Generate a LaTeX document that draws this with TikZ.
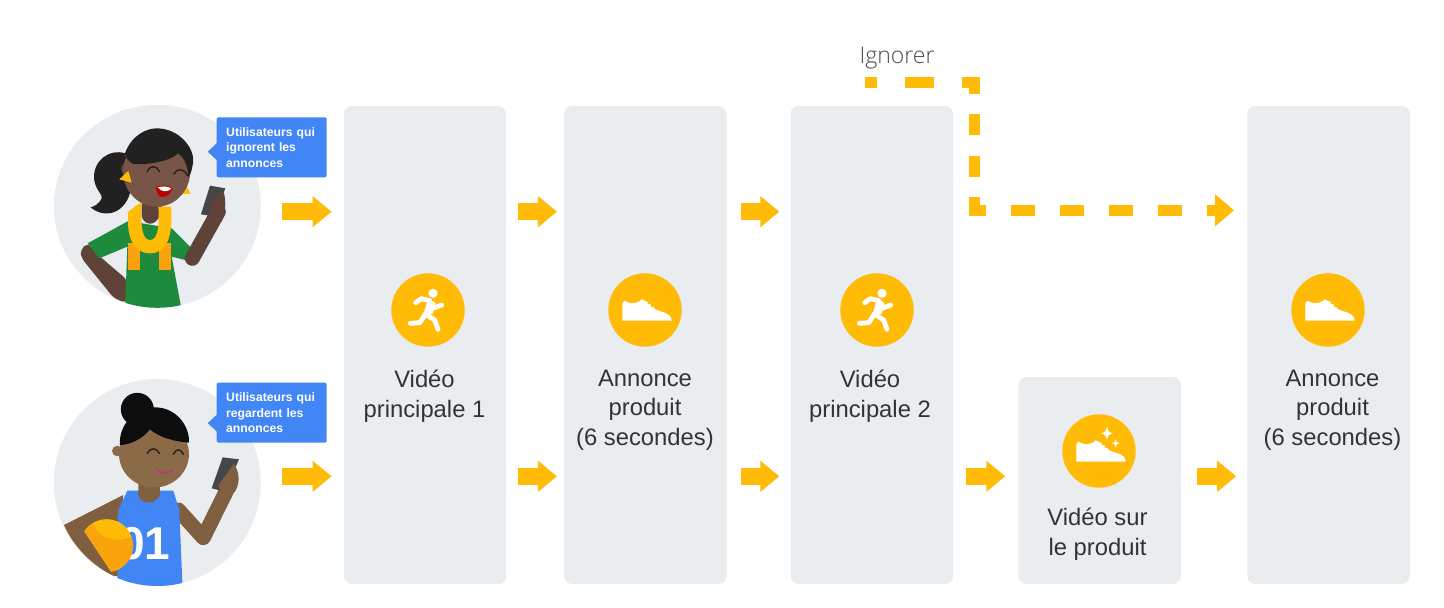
\documentclass[tikz,border=0pt]{standalone}
\usepackage{fontspec}
\setmainfont{Liberation Sans}
\newfontfamily\lightfont{Open Sans Light}
\usetikzlibrary{arrows.meta,positioning,calc,shapes.geometric}

\definecolor{panel}{HTML}{EAEDF0}
\definecolor{amber}{HTML}{FFBB05}
\definecolor{deepamber}{HTML}{F9A30E}
\definecolor{tipblue}{HTML}{4285F4}
\definecolor{leaf}{HTML}{1E8A3E}
\definecolor{skina}{HTML}{795548}
\definecolor{skinb}{HTML}{5F4339}
\definecolor{skinc}{HTML}{8B6A47}
\definecolor{skind}{HTML}{7F5F3F}
\definecolor{ink}{HTML}{212121}
\definecolor{slate}{HTML}{444648}

\tikzset{
  runner/.pic={
    \begin{scope}[x=.3333pt,y=-.3333pt,white,line cap=round,line join=round]
      \fill (15,-50) circle (4.6pt);
      \fill (-2,-28) -- (22,-22) -- (14,12) -- (-14,16) -- cycle;
      \draw[line width=4.8pt] (-37,-22) -- (-20,-34) -- (5,-28);
      \draw[line width=4.8pt] (12,-20) -- (15,-5) -- (41,-15);
      \draw[line width=4.8pt] (-8,12) -- (20,30) -- (30,58);
      \draw[line width=4.8pt] (-8,12) -- (-24,38) -- (-53,40);
    \end{scope}
  },
  shoe/.pic={
    \begin{scope}[x=.3333pt,y=-.3333pt]
      \fill[white] (-68,32) -- (-68,-20) -- (-62,-28)
        .. controls (-50,-20) and (-28,-14) .. (-10,-32)
        -- (5,-25) -- (35,0) .. controls (55,8) and (78,8) .. (80,32) -- cycle;
      \draw[amber,line width=.8pt] (8,-18) -- (18,-22) (18,-10) -- (28,-14) (28,-4) -- (38,-8);
    \end{scope}
  },
  sparkle/.pic={
    \begin{scope}[x=.3333pt,y=-.3333pt]
      \fill[white] (24,-75) .. controls (26,-60) and (30,-55) .. (42,-53)
        .. controls (30,-51) and (26,-46) .. (24,-31)
        .. controls (22,-46) and (18,-51) .. (6,-53)
        .. controls (18,-55) and (22,-60) .. cycle;
      \fill[white] (50,-35) .. controls (51,-27) and (53,-25) .. (61,-23)
        .. controls (53,-21) and (51,-19) .. (50,-11)
        .. controls (49,-19) and (47,-21) .. (39,-23)
        .. controls (47,-25) and (49,-27) .. cycle;
    \end{scope}
  }
}

\begin{document}
\begin{tikzpicture}[x=1pt,y=-1pt]
\tikzstyle{tallbox}=[fill=panel,rounded corners=8pt,minimum width=162.5pt,minimum height=478pt,inner sep=0pt]
\tikzstyle{shortbox}=[tallbox,minimum height=207pt]
\tikzstyle{icon}=[circle,fill=amber,minimum size=73.4pt,inner sep=0pt]
\tikzstyle{caption}=[align=center,font=\fontsize{23.8}{29.5}\selectfont,text=black!80,inner sep=0pt]
\tikzstyle{avatar}=[ellipse,fill=panel,minimum width=207pt,minimum height=207pt,inner sep=0pt]
\tikzstyle{bubble}=[fill=tipblue,rounded corners=2pt,minimum width=110pt,minimum height=60pt,inner sep=0pt,
  text width=91pt,align=left,text=white,font=\fontsize{12.2}{15.6}\selectfont\bfseries]
\tikzstyle{flow}=[amber,line width=17pt,-{Triangle[length=19pt,width=30pt]}]
\tikzstyle{skip}=[amber,line width=10.6pt]

\useasboundingbox (0,0) rectangle (1444,608);

\node[tallbox]  (vid1) at (425,345) {};
\node[tallbox]  (ad1)  [right=57.5pt of vid1] {};
\node[tallbox]  (vid2) [right=63.5pt of ad1] {};
\node[shortbox] (demo) [right=65pt of vid2,yshift=-135.5pt] {};
\node[tallbox]  (ad2)  [right=66pt of demo,yshift=135.5pt] {};

\node[icon] (runa)  at (428,310) {};
\node[icon] (shoea) at (645,310) {};
\node[icon] (runb)  at (877,310) {};
\node[icon] (shoeb) at (1099,451) {};
\node[icon] (shoec) at (1328,310) {};
\pic at (runa) {runner};
\pic at (shoea) {shoe};
\pic at (runb) {runner};
\pic at (shoeb) {shoe};
\pic at (shoeb) {sparkle};
\pic at (shoec) {shoe};

\node[caption] (capa) [below=23pt of runa,xshift=-3.5pt] {Vidéo\\principale 1};
\node[caption] (capb) [below=23pt of shoea] {Annonce\\produit\\(6 secondes)};
\node[caption] (capc) [below=23pt of runb,xshift=-7pt] {Vidéo\\principale 2};
\node[caption] (capd) [below=20pt of shoeb,xshift=-1.5pt] {Vidéo sur\\le produit};
\node[caption] (cape) [below=23pt of shoec,xshift=4.5pt] {Annonce\\produit\\(6 secondes)};
\node[font=\lightfont\fontsize{23}{28}\selectfont,text=black!70,inner sep=0pt,anchor=base] (skiptext) at (897,63) {Ignorer};

\node[avatar,minimum height=203pt] (usera) at (157.3,206.3) {};
\node[avatar] (userb) at (157.3,482.5) {};

\begin{scope}
\clip (usera.center) ellipse (103.5pt and 101.5pt);
\begin{scope}[shift={(40,90)},x=.3333pt,y=-.3333pt]
  \fill[ink] (255,190) .. controls (210,175) and (160,210) .. (162,265)
    .. controls (165,300) and (190,315) .. (185,325) .. controls (175,345) and (160,350) .. (152,352)
    .. controls (190,385) and (250,375) .. (270,310) -- (270,250) -- cycle;
  \fill[skinb,rounded corners=5pt] (145,458) -- (120,480) -- (125,505) -- (222,625) -- (262,640) -- (262,570) -- (180,500) -- cycle;
  \fill[leaf] (143,460) -- (265,393) -- (395,415) -- (455,475) -- (435,510) -- (395,500) -- (425,660) -- (255,660) -- (262,470) -- (178,505) -- cycle;
  \draw[skinb,line width=15pt,line cap=round,line join=round] (457,505) -- (535,365);
  \fill[deepamber] (263,460) rectangle (300,540);
  \fill[deepamber] (357,460) rectangle (393,540);
  \fill[skinb] (305,340) -- (305,380) .. controls (315,408) and (345,408) .. (358,380) -- (368,340) -- cycle;
  \fill[amber] (265,365) .. controls (258,440) and (280,490) .. (330,490)
    .. controls (380,490) and (400,440) .. (393,350)
    -- (355,350) .. controls (360,420) and (350,450) .. (330,450)
    .. controls (310,450) and (300,420) .. (305,335) -- cycle;
  \fill[amber] (435,280) -- (452,312) -- (425,312) -- cycle;
  \fill[skinb] (258,235) circle (5pt);
  \fill[skina] (350,245) ellipse (33.5pt and 35pt);
  \fill[amber] (238,268) -- (265,243) -- (275,278) -- cycle;
  \fill[ink] (255,190) .. controls (275,135) and (320,115) .. (350,115)
    .. controls (420,115) and (470,180) .. (458,225) .. controls (455,245) and (450,255) .. (445,262)
    .. controls (445,235) and (435,205) .. (415,190) .. controls (390,215) and (320,225) .. (280,222)
    .. controls (265,215) and (255,200) .. cycle;
  \fill[slate] (510,287) -- (556,295) -- (525,380) -- (483,373) -- cycle;
  \fill[skinb] (510,345) .. controls (525,320) and (540,300) .. (552,310) .. controls (560,340) and (555,370) .. (545,395) -- (510,385) -- cycle;
  \draw[ink,line width=1.4pt,line cap=round] (322,245) .. controls (330,225) and (350,225) .. (358,245);
  \draw[ink,line width=1.4pt,line cap=round] (402,252) .. controls (410,234) and (432,234) .. (443,257);
  \fill[red!75!black] (348,290) .. controls (365,285) and (385,285) .. (398,295) .. controls (392,315) and (375,325) .. (360,320) .. controls (352,312) and (348,300) .. cycle;
  \fill[white] (353,292) .. controls (365,288) and (385,288) .. (394,296) .. controls (385,306) and (365,308) .. cycle;
\end{scope}
\end{scope}

\begin{scope}
\clip (userb.center) circle (103.5pt);
\begin{scope}[shift={(40,370)},x=.3333pt,y=-.3333pt]
  \fill[black!95] (292,118) circle (16.5pt);
  \fill[skind] (250,375) -- (72,465) .. controls (100,530) and (160,590) .. (222,618) -- (245,618) -- (245,420) -- cycle;
  \draw[skind,line width=15pt,line cap=round,line join=round] (415,420) -- (490,503) -- (568,345);
  \fill[tipblue] (232,660) -- (235,420) -- (262,362) -- (400,362) -- (418,420) -- (428,660) -- cycle;
  \fill[skind] (295,330) -- (295,375) .. controls (305,405) and (345,405) .. (360,375) -- (360,330) -- cycle;
  \node[text=white,font=\fontsize{46}{46}\selectfont\bfseries,inner sep=0pt,anchor=base] (jersey) at (315,570) {01};
  \begin{scope}
    \clip (130,480) -- (222,618) -- (300,618) -- (300,430) -- (130,430) -- cycle;
    \clip (200,527) circle (26.5pt);
    \fill[amber] (200,527) circle (26.5pt);
    \fill[deepamber] (120,470) -- (160,462) .. controls (172,505) and (235,525) .. (285,495)
      -- (290,570) .. controls (270,595) and (250,605) .. (232,598) -- (222,620) -- cycle;
  \end{scope}
  \fill[skinc] (232,243) circle (5.3pt);
  \fill[skinc] (342,252) ellipse (35pt and 33.5pt);
  \fill[black!95] (240,225) .. controls (235,170) and (280,112) .. (345,112)
    .. controls (410,112) and (450,170) .. (447,218)
    .. controls (410,215) and (360,205) .. (330,178)
    .. controls (310,205) and (270,225) .. cycle;
  \fill[slate] (548,262) -- (597,268) -- (555,365) -- (515,355) -- cycle;
  \fill[skind] (535,345) .. controls (550,325) and (570,300) .. (582,280) .. controls (600,310) and (600,340) .. (585,365) -- (552,385) -- cycle;
  \draw[ink,line width=1.4pt,line cap=round] (322,250) .. controls (330,232) and (350,232) .. (358,250);
  \draw[ink,line width=1.4pt,line cap=round] (400,253) .. controls (408,235) and (422,235) .. (430,253);
  \draw[magenta!70!black,line width=1.8pt,line cap=round] (348,297) .. controls (360,312) and (385,312) .. (397,300);
\end{scope}
\end{scope}

\node[bubble] (tipa) at (271.7,147.3) {Utilisateurs qui\\ignorent les\\annonces};
\node[bubble] (tipb) at (271.7,412.7) {Utilisateurs qui\\regardent les\\annonces};
\fill[tipblue] ($(tipa.west)+(.5,-4.3)$) -- ($(tipa.west)+(-8.7,4.4)$) -- ($(tipa.west)+(.5,13)$) -- cycle;
\fill[tipblue] ($(tipb.west)+(.5,1.7)$) -- ($(tipb.west)+(-8.7,10.4)$) -- ($(tipb.west)+(.5,19)$) -- cycle;

\coordinate (rowa) at (0,211.7);
\coordinate (rowb) at (0,476.3);
\path[flow]
(usera.east |- rowa) edge[shorten <=21pt,shorten >=12pt] (vid1.west |- rowa)
(userb.east |- rowb) edge[shorten <=21pt,shorten >=12pt] (vid1.west |- rowb)
(vid1.east |- rowa) edge[shorten <=12pt,shorten >=7pt] (ad1.west |- rowa)
(vid1.east |- rowb) edge[shorten <=12pt,shorten >=7pt] (ad1.west |- rowb)
(ad1.east |- rowa) edge[shorten <=14pt,shorten >=11pt] (vid2.west |- rowa)
(ad1.east |- rowb) edge[shorten <=14pt,shorten >=11pt] (vid2.west |- rowb)
(vid2.east |- rowb) edge[shorten <=13pt,shorten >=13pt] (demo.west |- rowb)
(demo.east |- rowb) edge[shorten <=16pt,shorten >=11pt] (ad2.west |- rowb);

\coordinate (skipa) at (865,82.7);
\coordinate (skipb) at (980,82.7);
\coordinate (skipc) at (974.5,77.4);
\coordinate (skipd) at (974.5,215);
\coordinate (skipe) at (969,210.3);
\coordinate (skipf) at (1234,210.3);
\draw[skip,dash pattern=on 29pt off 28pt,dash phase=17pt] (skipa) -- (skipb);
\draw[skip,dash pattern=on 21pt off 20.5pt,dash phase=4.5pt] (skipc) -- (skipd);
\draw[skip,dash pattern=on 24.5pt off 24.5pt,dash phase=7.5pt,-{Triangle[length=19pt,width=31pt]}] (skipe) -- (skipf);
\end{tikzpicture}
\end{document}
